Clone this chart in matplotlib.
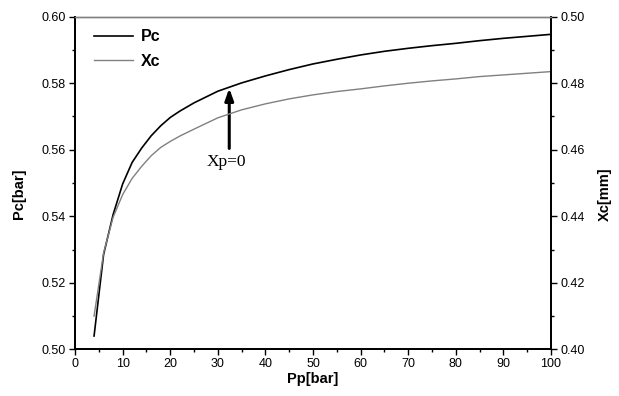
"""Pc / Xc vs Pp chart recreated with matplotlib."""
import matplotlib
matplotlib.use("Agg")
import matplotlib.pyplot as plt
from matplotlib.ticker import MultipleLocator

plt.rcParams["font.family"] = ["Liberation Sans", "DejaVu Sans"]

# data
pp = [4, 6, 8, 10, 12, 14, 16, 18, 20, 22, 25, 30, 35, 40, 45, 50,
      55, 60, 65, 70, 75, 80, 85, 90, 95, 100]
pc = [0.504, 0.5285, 0.5405, 0.5497, 0.5562, 0.5605, 0.5642, 0.5672, 0.5697,
      0.5716, 0.5741, 0.5776, 0.5801, 0.5822, 0.5841, 0.5858, 0.5872, 0.5885,
      0.5896, 0.5905, 0.5913, 0.5920, 0.5928, 0.5935, 0.5941, 0.5947]
xc = [0.410, 0.429, 0.4397, 0.4465, 0.4514, 0.4550, 0.4582, 0.4607, 0.4625,
      0.4641, 0.4662, 0.4696, 0.4720, 0.4738, 0.4753, 0.4765, 0.4775, 0.4783,
      0.4792, 0.4800, 0.4807, 0.4813, 0.4820, 0.4825, 0.4830, 0.4835]
arrow_x = 32.4
arrow_tip = 0.5785
arrow_tail = 0.5604
arrow_text = "Xp=0"

fig = plt.figure(figsize=(6.19, 3.96), dpi=100)
ax = fig.add_axes([0.1212, 0.1179, 0.7690, 0.8399])
ax2 = ax.twinx()

l1, = ax.plot(pp, pc, color="black", lw=1.2, label="Pc")
l2, = ax2.plot(pp, xc, color="#808080", lw=1.0, label="Xc")

ax.set_xlim(0, 100)
ax.set_ylim(0.50, 0.60)
ax2.set_ylim(0.40, 0.50)

ax.xaxis.set_major_locator(MultipleLocator(10))
ax.xaxis.set_minor_locator(MultipleLocator(5))
ax.yaxis.set_major_locator(MultipleLocator(0.02))
ax.yaxis.set_minor_locator(MultipleLocator(0.01))
ax2.yaxis.set_major_locator(MultipleLocator(0.02))
ax2.yaxis.set_minor_locator(MultipleLocator(0.01))
ax.yaxis.set_major_formatter(plt.FormatStrFormatter("%.2f"))
ax2.yaxis.set_major_formatter(plt.FormatStrFormatter("%.2f"))

for a in (ax, ax2):
    a.tick_params(which="major", direction="out", length=4.5, width=1.0, labelsize=9, pad=2)
    a.tick_params(which="minor", direction="out", length=2.5, width=1.0)
    for s in a.spines.values():
        s.set_linewidth(1.3)
    a.spines["top"].set_color("#808080")
    a.spines["top"].set_linewidth(1.0)

ax.set_xlabel("Pp[bar]", fontsize=10.5, fontweight="bold", labelpad=1)
ax.set_ylabel("Pc[bar]", fontsize=10.5, fontweight="bold", labelpad=11)
ax2.set_ylabel("Xc[mm]", fontsize=10.5, fontweight="bold", labelpad=10)
ax.yaxis.label.set_y(0.467)
ax2.yaxis.label.set_y(0.467)

ax.annotate("", xy=(arrow_x, arrow_tip), xytext=(arrow_x, arrow_tail),
            arrowprops=dict(arrowstyle="-|>,head_length=0.7,head_width=0.25",
                            color="black", lw=2.2, shrinkA=0, shrinkB=0))
ax.text(31.9, 0.5564, arrow_text, ha="center", va="center",
        fontsize=12.5, family=["Liberation Serif", "DejaVu Serif"])

ax.legend(handles=[l1, l2], loc="upper left", frameon=False,
          prop={"weight": "bold", "size": 11.5}, handlelength=2.45,
          handletextpad=0.45, labelspacing=0.6, borderpad=0,
          borderaxespad=0, bbox_to_anchor=(0.04, 0.962))

fig.savefig("out.png", dpi=100)
